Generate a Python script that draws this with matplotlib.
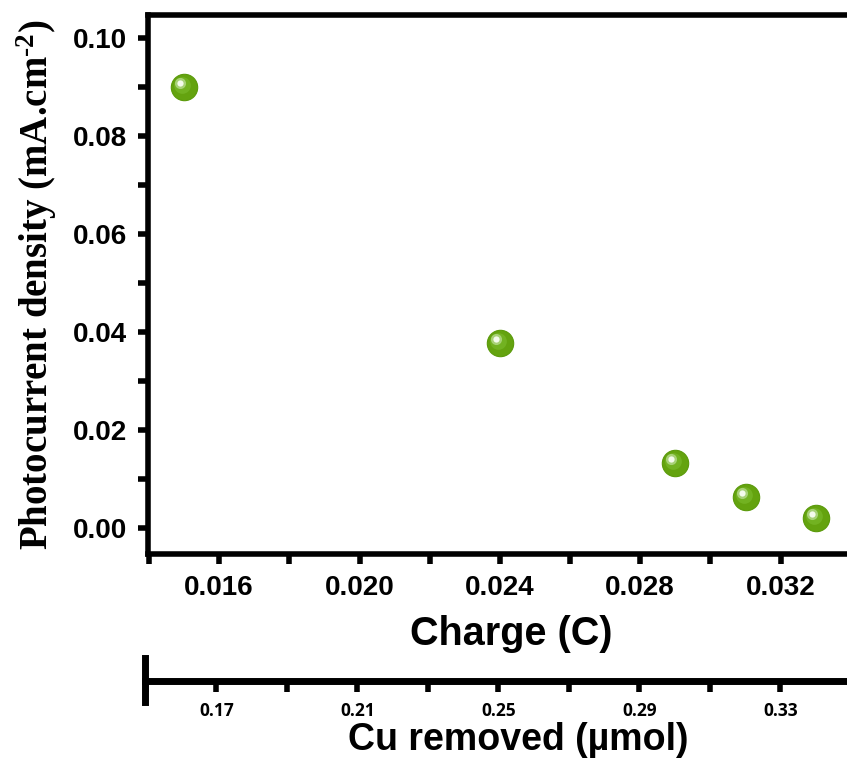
import matplotlib
matplotlib.use('Agg')
import matplotlib.pyplot as plt
from matplotlib.ticker import MultipleLocator, FormatStrFormatter
from matplotlib.transforms import offset_copy

# data
charge = [0.015, 0.024, 0.029, 0.031, 0.033]
photocurrent = [0.0900, 0.0377, 0.0133, 0.0063, 0.0020]

x_label = 'Charge (C)'
y_label = 'Photocurrent density (mA.cm$^{\u20102}$)'
cu_label = 'Cu removed (\u00b5mol)'
cu_ticks = [0.17, 0.21, 0.25, 0.29, 0.33]

plt.rcParams['mathtext.fontset'] = 'custom'
plt.rcParams['mathtext.rm'] = 'Liberation Serif:bold'
plt.rcParams['mathtext.it'] = 'Liberation Serif:bold'
plt.rcParams['mathtext.bf'] = 'Liberation Serif:bold'

W, H = 847, 759
fig = plt.figure(figsize=(W / 100, H / 100), dpi=100)

def px(x0, y0, x1, y1):
    return [x0 / W, 1 - y1 / H, (x1 - x0) / W, (y1 - y0) / H]

xlim = (0.013972, 0.033892)
ax = fig.add_axes(px(148, 15, 847, 554))
ax.set_xlim(*xlim)
ax.set_ylim(-0.00531, 0.1047)

# green spheres: body + highlight
ax.plot(charge, photocurrent, 'o', ms=19, color='#64a30f', mec='#5a9a0a', mew=0.8, zorder=3)
ax.plot(charge, photocurrent, 'o', ms=12, color='#74b424', mew=0, alpha=0.9, zorder=4,
        transform=offset_copy(ax.transData, fig, x=-2, y=2, units='dots'))
ax.plot(charge, photocurrent, 'o', ms=8, color='#b5da8c', mew=0, alpha=0.8, zorder=5,
        transform=offset_copy(ax.transData, fig, x=-4, y=4, units='dots'))
ax.plot(charge, photocurrent, 'o', ms=4.5, color='#f4fbec', mew=0, zorder=6,
        transform=offset_copy(ax.transData, fig, x=-4, y=4, units='dots'))

for s in ['left', 'bottom', 'top']:
    ax.spines[s].set_linewidth(4)
ax.spines['right'].set_visible(False)

ax.xaxis.set_major_locator(MultipleLocator(0.004))
ax.xaxis.set_minor_locator(MultipleLocator(0.002))
ax.yaxis.set_major_locator(MultipleLocator(0.02))
ax.yaxis.set_minor_locator(MultipleLocator(0.01))
ax.xaxis.set_major_formatter(FormatStrFormatter('%.3f'))
ax.yaxis.set_major_formatter(FormatStrFormatter('%.2f'))
ax.tick_params(which='both', direction='out', length=7, width=4, top=False, right=False)
ax.tick_params(axis='x', pad=8)
ax.tick_params(axis='y', pad=8)
for lab in ax.get_xticklabels() + ax.get_yticklabels():
    lab.set_fontfamily('Liberation Sans')
    lab.set_fontweight('bold')
    lab.set_fontsize(20)

ax.set_xlabel(x_label, fontfamily='Liberation Sans', fontweight='bold', fontsize=28.5)
ax.xaxis.set_label_coords(0.519, -0.114)
ax.set_ylabel(y_label, fontfamily='Liberation Serif', fontweight='bold', fontsize=28, labelpad=10)

# secondary axis for Cu removed
ax2 = fig.add_axes(px(145, 658, 847, 702))
ax2.set_xlim(10 * xlim[0] + 0.01, 10 * xlim[1] + 0.01)
ax2.set_ylim(0, 1)
ax2.patch.set_visible(False)
for s in ['top', 'right']:
    ax2.spines[s].set_visible(False)
ax2.spines['bottom'].set_position(('axes', 0.477))
ax2.spines['bottom'].set_linewidth(5)
ax2.spines['left'].set_linewidth(5)
ax2.set_yticks([])
ax2.set_xticks(cu_ticks)
ax2.xaxis.set_minor_locator(MultipleLocator(0.02, offset=0.01))
ax2.xaxis.set_major_formatter(FormatStrFormatter('%.2f'))
ax2.tick_params(axis='x', which='both', direction='out', length=8, width=4, pad=7)
for lab in ax2.get_xticklabels():
    lab.set_fontfamily('Open Sans')
    lab.set_fontweight('bold')
    lab.set_fontsize(12.5)

fig.text(518 / W, 1 - 740 / H, cu_label, ha='center', va='center',
         fontfamily='Liberation Sans', fontweight='bold', fontsize=27)

fig.savefig('out.png', dpi=100)
